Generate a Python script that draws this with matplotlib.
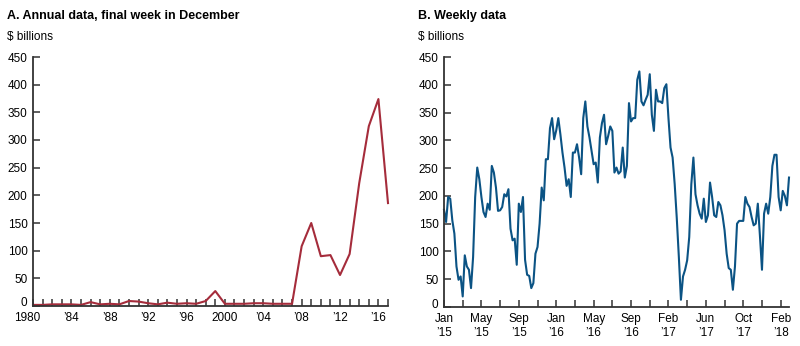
import numpy as np
import matplotlib
matplotlib.use('Agg')
import matplotlib.pyplot as plt
import matplotlib.transforms as mtransforms

plt.rcParams['font.family'] = ['Liberation Sans', 'DejaVu Sans']

# A. annual data, final week in December ($ billions)
years = list(range(1980, 2018))
annual = [2, 2, 3, 3, 3, 2, 7, 3, 4, 3, 9, 8, 5, 3, 6, 4, 5, 4, 9, 27,
          4, 4, 4, 5, 5, 4, 4, 4, 108, 150, 90, 92, 56, 94, 222, 325, 374, 186]
year_ticks = [1980, 1984, 1988, 1992, 1996, 2000, 2004, 2008, 2012, 2016]
year_labels = ['1980', '\u201984', '\u201988', '\u201992', '\u201996', '2000',
               '\u201904', '\u201908', '\u201912', '\u201916']

# B. weekly data, Jan 2015 - Mar 2018 ($ billions)
weekly = [175, 153, 198, 195, 156, 132, 73, 49, 55, 19,
          93, 73, 67, 34, 90, 198, 251, 230, 198, 171,
          162, 186, 175, 254, 242, 215, 173, 174, 180, 203,
          199, 212, 141, 120, 123, 76, 186, 171, 198, 85,
          58, 56, 34, 43, 96, 108, 150, 215, 192, 266,
          266, 322, 340, 302, 318, 340, 311, 278, 251, 218,
          230, 198, 278, 278, 293, 269, 239, 340, 370, 325,
          305, 281, 257, 260, 224, 305, 331, 346, 293, 308,
          325, 317, 242, 251, 240, 244, 287, 233, 254, 367,
          334, 340, 340, 409, 424, 370, 363, 373, 382, 419,
          346, 317, 391, 370, 370, 367, 394, 401, 340, 287,
          269, 221, 160, 90, 13, 55, 67, 84, 126, 221,
          269, 203, 183, 168, 159, 195, 153, 165, 224, 198,
          165, 162, 189, 183, 165, 138, 96, 70, 67, 31,
          73, 150, 155, 155, 155, 198, 186, 180, 162, 147,
          150, 186, 129, 67, 168, 186, 168, 198, 254, 274,
          274, 198, 174, 209, 200, 183, 233]
week_labels = ['Jan\n\u201915', 'May\n\u201915', 'Sep\n\u201915', 'Jan\n\u201916',
               'May\n\u201916', 'Sep\n\u201916', 'Feb\n\u201917', 'Jun\n\u201917',
               'Oct\n\u201917', 'Feb\n\u201918']

red = '#a52c3b'
blue = '#0b5384'
axcol = '#333333'

fig = plt.figure(figsize=(8, 3.46), dpi=100)
ax1 = fig.add_axes([33/800, 1-306/346, 355/800, 249/346])
ax2 = fig.add_axes([444/800, 1-307/346, 345/800, 250/346])


def shift(lab, dx, dy):
    lab.set_transform(lab.get_transform() +
                      mtransforms.ScaledTranslation(dx/100, dy/100, fig.dpi_scale_trans))


def style(ax):
    for s in ['top', 'right']:
        ax.spines[s].set_visible(False)
    for s in ['left', 'bottom']:
        ax.spines[s].set_linewidth(1.3)
        ax.spines[s].set_color(axcol)
    ax.set_ylim(0, 450)
    ax.set_yticks(range(0, 451, 50))
    ax.tick_params(axis='both', direction='in', length=5, width=1.1,
                   color=axcol, labelsize=8.5, labelcolor='black')
    ax.tick_params(axis='y', pad=4)
    ax.tick_params(axis='x', pad=4)
    ax.tick_params(axis='x', which='minor', direction='in', length=5, width=1.1, color=axcol)
    # lift the 0 label off the x axis
    shift(ax.get_yticklabels()[0], 0, 4)


ax1.plot(years, annual, color=red, lw=1.5, clip_on=False)
ax1.set_xlim(1980, 2017)
ax1.set_xticks(years, minor=True)
ax1.set_xticks(year_ticks)
ax1.set_xticklabels(year_labels)
style(ax1)
shift(ax1.get_xticklabels()[0], -6, 0)

weeks = np.arange(len(weekly))
ax2.plot(weeks, weekly, color=blue, lw=1.5, clip_on=False)
ax2.set_xlim(0, 166)
ax2.set_xticks(np.arange(0, 163, 9), minor=True)
ax2.set_xticks(np.arange(0, 163, 18))
ax2.set_xticklabels(week_labels, linespacing=1.3)
style(ax2)

fig.text(7/800, 1-16/346, 'A. Annual data, final week in December', fontsize=9,
         fontweight='bold', va='center', ha='left')
fig.text(7/800, 1-37/346, '$ billions', fontsize=8.5, va='center', ha='left')
fig.text(418/800, 1-16/346, 'B. Weekly data', fontsize=9,
         fontweight='bold', va='center', ha='left')
fig.text(418/800, 1-37/346, '$ billions', fontsize=8.5, va='center', ha='left')

fig.savefig('out.png', dpi=100)
